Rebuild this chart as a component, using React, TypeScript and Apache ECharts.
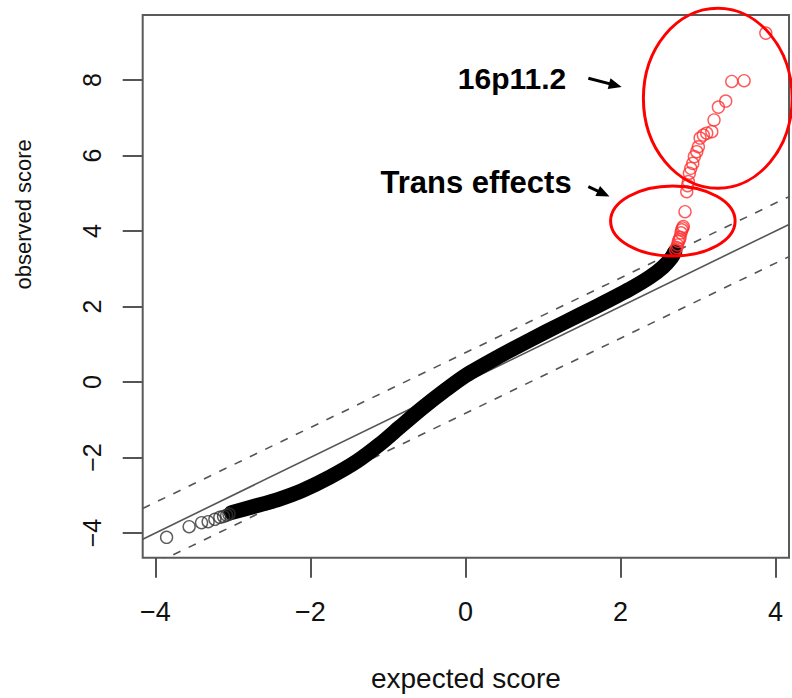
import { useEffect, useRef } from "react";
import * as echarts from "echarts";

// Axis ticks
const xTicks = [-4, -2, 0, 2, 4];
const yTicks = [-4, -2, 0, 2, 4, 6, 8];

// Plot limits (data units)
const xRange = [-4.163, 4.173];
const yRange = [-4.654, 9.72];

// Sparse lower tail: individual circles [expected, observed]
const lowerTail: [number, number][] = [
  [-3.855, -4.115], [-3.564, -3.833], [-3.404, -3.727], [-3.319, -3.7],
  [-3.232, -3.638], [-3.168, -3.585], [-3.12, -3.56], [-3.08, -3.53], [-3.05, -3.5],
];

// Dense body: centre line of the overlapping circles [expected, observed]
const body: [number, number][] = [
  [-3.02, -3.46], [-2.7, -3.28], [-2.4, -3.1], [-2.1, -2.87], [-1.75, -2.52],
  [-1.4, -2.1], [-1.1, -1.64], [-0.85, -1.2], [-0.55, -0.68], [-0.25, -0.2],
  [0.0, 0.17], [0.4, 0.64], [0.83, 1.11], [1.26, 1.56], [1.69, 2.0],
  [2.12, 2.46], [2.38, 2.78], [2.55, 3.05], [2.66, 3.3], [2.7, 3.45],
];

// Upper tail beyond the cut-off, highlighted [expected, observed]
const upperTail: [number, number][] = [
  [2.71, 3.5], [2.725, 3.56], [2.735, 3.63], [2.746, 3.72], [2.757, 3.77],
  [2.768, 3.83], [2.78, 3.95], [2.79, 4.03], [2.8, 4.08], [2.81, 4.12],
  [2.832, 4.51], [2.854, 5.04], [2.865, 5.2], [2.875, 5.31], [2.888, 5.53],
  [2.906, 5.66], [2.932, 5.79], [2.952, 5.97], [2.983, 6.1], [3.004, 6.23],
  [3.026, 6.46], [3.068, 6.54], [3.112, 6.59], [3.177, 6.63], [3.206, 6.94],
  [3.262, 7.28], [3.357, 7.44], [3.435, 7.96], [3.594, 7.98], [3.874, 9.24],
];

// Reference line and confidence envelope
const identityLine: [number, number][] = [[-4.163, -4.163], [4.173, 4.173]];
const upperEnvelope: [number, number][] = [[-4.163, -3.35], [4.173, 4.91]];
const lowerEnvelope: [number, number][] = [[-4.163, -4.97], [4.173, 3.32]];

// Annotations, in data units
const rings = [
  { cx: 3.254, cy: 7.515, rx: 0.959, ry: 2.384 },
  { cx: 2.675, cy: 4.265, rx: 0.803, ry: 0.927 },
];
const notes = [
  { text: "16p11.2", x: 1.3, y: 8.03, size: 30 },
  { text: "Trans effects", x: 1.37, y: 5.285, size: 31 },
];
const arrows: { from: [number, number]; to: [number, number] }[] = [
  { from: [1.585, 8.045], to: [2.015, 7.815] },
  { from: [1.585, 5.174], to: [1.858, 4.914] },
];

const FONT = '"Liberation Sans", Arial, Helvetica, sans-serif';
const minus = (v: number) => (v < 0 ? "\u2212" + Math.abs(v) : String(v));

export default function App() {
  const ref = useRef<HTMLDivElement>(null);

  useEffect(() => {
    document.body.style.margin = "0";
    const chart = echarts.init(ref.current!, null, { renderer: "svg" });

    const axisCommon = {
      type: "value" as const,
      axisLine: { show: false, onZero: false },
      splitLine: { show: false },
      axisTick: { show: true, length: 20, lineStyle: { color: "#555", width: 2 } },
    };

    chart.setOption({
      animation: false,
      backgroundColor: "#fff",
      grid: {
        left: 142.7,
        right: 3,
        top: 15,
        bottom: 140.3,
        show: true,
        borderColor: "#5a5a5a",
        borderWidth: 2,
        backgroundColor: "transparent",
      },
      xAxis: {
        ...axisCommon,
        min: xRange[0],
        max: xRange[1],
        axisTick: { ...axisCommon.axisTick, customValues: xTicks },
        axisLabel: {
          customValues: xTicks,
          formatter: minus,
          margin: 41,
          fontSize: 27,
          color: "#111",
          fontFamily: FONT,
        },
        name: "expected score",
        nameLocation: "middle",
        nameGap: 107,
        nameTextStyle: { fontSize: 28, color: "#111", fontFamily: FONT },
      },
      yAxis: {
        ...axisCommon,
        min: yRange[0],
        max: yRange[1],
        axisTick: { ...axisCommon.axisTick, customValues: yTicks },
        axisLabel: {
          customValues: yTicks,
          formatter: minus,
          rotate: 90,
          margin: 38,
          fontSize: 25,
          color: "#111",
          fontFamily: FONT,
        },
        name: "observed score",
        nameLocation: "middle",
        nameGap: 108,
        nameRotate: 90,
        nameTextStyle: {
          fontSize: 22,
          color: "#111",
          fontFamily: FONT,
          padding: [0, 0, 0, 144],
        },
      },
      series: [
        {
          type: "line",
          data: upperEnvelope,
          symbol: "none",
          lineStyle: { color: "#555", width: 1.6, type: [8, 9] },
          z: 1,
        },
        {
          type: "line",
          data: lowerEnvelope,
          symbol: "none",
          lineStyle: { color: "#555", width: 1.6, type: [8, 9] },
          z: 1,
        },
        {
          type: "line",
          data: identityLine,
          symbol: "none",
          lineStyle: { color: "#555", width: 1.6 },
          z: 1,
        },
        {
          type: "line",
          data: body,
          symbol: "none",
          smooth: 0.25,
          lineStyle: { color: "#000", width: 15, cap: "round", join: "round" },
          z: 2,
        },
        {
          type: "scatter",
          data: lowerTail,
          symbol: "circle",
          symbolSize: 12,
          itemStyle: { color: "rgba(0,0,0,0)", borderColor: "#333", borderWidth: 1.4 },
          z: 3,
        },
        {
          type: "scatter",
          data: upperTail,
          symbol: "circle",
          symbolSize: 12,
          itemStyle: { color: "rgba(0,0,0,0)", borderColor: "#ff3030", borderWidth: 1.4 },
          z: 4,
        },
      ],
    });

    const px = (p: [number, number]) =>
      chart.convertToPixel({ gridIndex: 0 }, p) as number[];

    const elements: any[] = [];
    rings.forEach((r) => {
      const c = px([r.cx, r.cy]);
      const e = px([r.cx + r.rx, r.cy + r.ry]);
      elements.push({
        type: "ellipse",
        shape: { cx: c[0], cy: c[1], rx: Math.abs(e[0] - c[0]), ry: Math.abs(e[1] - c[1]) },
        style: { fill: "none", stroke: "#ff0000", lineWidth: 3 },
        z: 10,
      });
    });
    notes.forEach((n) => {
      const p = px([n.x, n.y]);
      elements.push({
        type: "text",
        x: p[0],
        y: p[1],
        style: {
          text: n.text,
          fill: "#000",
          fontSize: n.size,
          fontWeight: "bold",
          fontFamily: FONT,
          align: "right",
          verticalAlign: "middle",
          textAlign: "right",
          textVerticalAlign: "middle",
        },
        z: 10,
      });
    });
    arrows.forEach((a) => {
      const s = px(a.from);
      const t = px(a.to);
      const dx = t[0] - s[0];
      const dy = t[1] - s[1];
      const len = Math.hypot(dx, dy);
      const ux = dx / len;
      const uy = dy / len;
      const head = 13;
      const half = 5.5;
      const bx = t[0] - ux * head;
      const by = t[1] - uy * head;
      elements.push({
        type: "line",
        shape: { x1: s[0], y1: s[1], x2: bx + ux * 2, y2: by + uy * 2 },
        style: { stroke: "#000", lineWidth: 3 },
        z: 10,
      });
      elements.push({
        type: "polygon",
        shape: {
          points: [
            [t[0], t[1]],
            [bx - uy * half, by + ux * half],
            [bx + uy * half, by - ux * half],
          ],
        },
        style: { fill: "#000" },
        z: 10,
      });
    });
    chart.setOption({ graphic: elements });

    return () => chart.dispose();
  }, []);

  return <div ref={ref} style={{ width: 792, height: 698 }} />;
}
